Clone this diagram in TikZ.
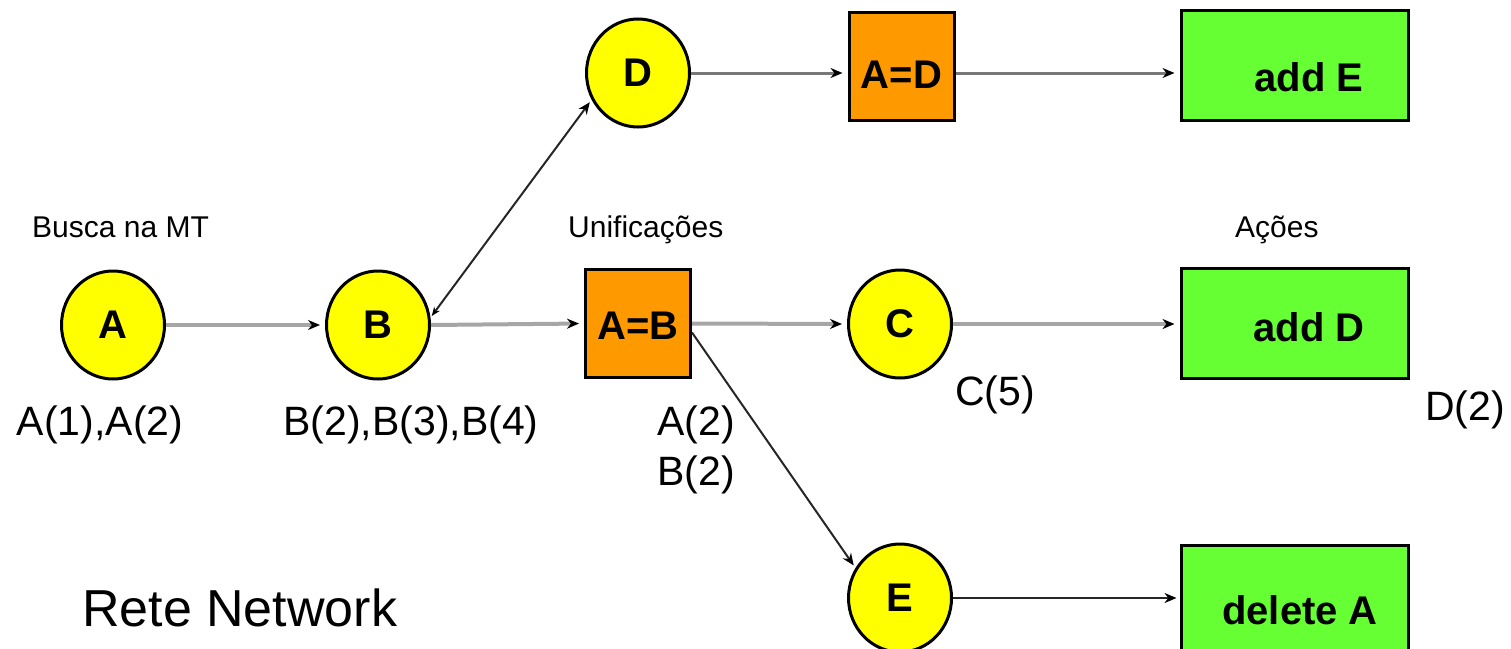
\documentclass[tikz,border=0pt]{standalone}
\usepackage{fontspec}
\setmainfont{Liberation Sans}
\usetikzlibrary{shapes.geometric,arrows.meta}
\definecolor{nodeyellow}{RGB}{255,255,0}
\definecolor{testorange}{RGB}{255,153,0}
\definecolor{actiongreen}{RGB}{102,255,51}
\definecolor{wiregray}{RGB}{166,166,166}
\definecolor{wiredark}{RGB}{120,120,120}
\begin{document}
\begin{tikzpicture}[x=1pt,y=-1pt,
  alphanode/.style={ellipse,draw=black,line width=3pt,fill=nodeyellow,
    minimum width=103pt,minimum height=108pt,inner sep=0pt,
    font=\fontsize{40}{40}\selectfont\bfseries},
  testbox/.style={rectangle,draw=black,line width=3pt,fill=testorange,
    minimum width=105pt,minimum height=108pt,inner sep=0pt},
  actionbox/.style={rectangle,draw=black,line width=3pt,fill=actiongreen,
    minimum width=227pt,minimum height=110pt,inner sep=0pt},
  boldlabel/.style={font=\fontsize{40}{40}\selectfont\bfseries,inner sep=0pt},
  fact/.style={font=\fontsize{41}{41}\selectfont,inner sep=0pt},
  caption/.style={font=\fontsize{30}{30}\selectfont,inner sep=0pt,anchor=base west},
  tip/.style={-{Stealth[length=12pt,width=10pt,color=black]}},
  graywire/.style={draw=wiregray,line width=4pt,tip,shorten >=5pt},
  darkwire/.style={draw=wiredark,line width=3pt,tip,shorten >=5pt},
  blackwire/.style={draw=black!85,line width=2pt,tip,shorten >=3pt},
]
\useasboundingbox (0,0) rectangle (1511,648);

% alpha memory nodes
\node[alphanode] (A) at (113,325) {A};
\node[alphanode] (B) at (378,325) {B};
\node[alphanode] (D) at (638,73) {D};
\node[alphanode] (C) at (900,324) {C};
\node[alphanode] (E) at (900,598) {E};

% join tests
\node[testbox] (AD) at (901.5,66.5) {};
\node[boldlabel] (ADtext) at (901.5,75) {A=D};
\node[testbox] (AB) at (638,323.5) {};
\node[boldlabel] (ABtext) at (638,326) {A=B};

% actions
\node[actionbox] (addE) at (1294.5,65.5) {};
\node[boldlabel] (addEtext) at (1309,77) {add E};
\node[actionbox] (addD) at (1294.5,323.5) {};
\node[boldlabel] (addDtext) at (1309,327) {add D};
\node[actionbox] (delA) at (1294.5,600) {};
\node[boldlabel,anchor=base] (delAtext) at (1300,624) {delete A};

% connections
\draw[graywire] (A.east) -- (B.west);
\draw[graywire] (B.east) -- (AB.west);
\draw[graywire] (AB.east) -- (C.west);
\draw[graywire] (C.east) -- (C.east -| addD.west);
\draw[darkwire] (D.east) -- (D.east -| AD.west);
\draw[darkwire] (D.east -| AD.east) -- (D.east -| addE.west);
\draw[blackwire,{Stealth[length=9pt,width=7pt,color=black]}-{Stealth[length=12pt,width=10pt,color=black]},
  shorten <=2pt] (B.8) -- (D.210);
\draw[blackwire] ([yshift=-9pt]AB.east) -- (E.146);
\draw[blackwire] (E.east) -- (E.east -| delA.west);

% working-memory facts and captions
\node[fact,anchor=base] (factsA) at (100,435) {A(1),A(2)};
\node[fact,anchor=base] (factsB) at (411,435) {B(2),B(3),B(4)};
\node[fact,anchor=base west] (factA2) at (657,435) {A(2)};
\node[fact,anchor=base west] (factB2) at (657,485) {B(2)};
\node[fact,anchor=base west] (factC5) at (955,405) {C(5)};
\node[fact,anchor=base west] (factD2) at (1425,420) {D(2)};

\node[caption] (busca) at (32,237) {Busca na MT};
\node[caption] (unif) at (568,237) {Unificações};
\node[caption] (acoes) at (1235,237) {Ações};
\node[font=\fontsize{52}{52}\selectfont,inner sep=0pt,anchor=base west] (title) at (82,626) {Rete Network};
\end{tikzpicture}
\end{document}
